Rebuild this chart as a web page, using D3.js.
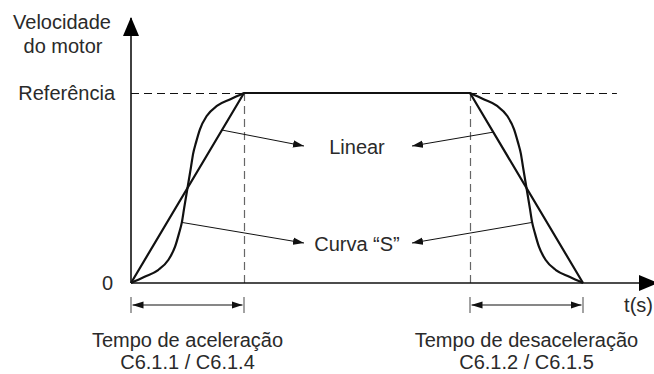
<!DOCTYPE html>
<html>
<head>
<meta charset="utf-8">
<script src="https://cdn.jsdelivr.net/npm/d3@7"></script>
<style>
  body { margin: 0; background: #fff; }
  text { font-family: "Liberation Sans", Arial, sans-serif; font-size: 20px; fill: #2a2a2a; }
</style>
</head>
<body>
<svg id="chart" width="654" height="374"></svg>
<script>
// linear ramp profile (t in ramp units, v as fraction of reference)
const profileT = [0, 1, 3, 4]
const profileV = [0, 1, 1, 0]

// "S" curve
const sAccelT = [0, .12, .24, .33, .39, .425, .45, .47, .5, .53, .55, .575, .61, .67, .76, .88, 1]
const sAccelV = [0, .033, .068, .121, .191, .261, .319, .393, .5, .607, .681, .739, .809, .879, .932, .967, 1]
const sDecelT = [3, 3.12, 3.24, 3.33, 3.39, 3.425, 3.45, 3.47, 3.5, 3.53, 3.55, 3.575, 3.61, 3.67, 3.76, 3.88, 4]
const sDecelV = [1, .967, .932, .879, .809, .739, .681, .607, .5, .393, .319, .261, .191, .121, .068, .033, 0]

// where the callout arrows leave the curves
const linearCallT = [0.805, 3.206]
const sCallT = [0.448, 3.552]
const sCallV = [0.319, 0.319]

const rampLabels = [
  ["Tempo de aceleração", "C6.1.1 / C6.1.4"],
  ["Tempo de desaceleração", "C6.1.2 / C6.1.5"]
]
const rampSpans = [[0, 1], [3, 4]]

const svg = d3.select("#chart")

const x = d3.scaleLinear().domain([0, 4]).range([131, 583])
const y = d3.scaleLinear().domain([0, 1]).range([283, 93])

const defs = svg.append("defs")
defs.append("marker")
  .attr("id", "head")
  .attr("viewBox", "0 -4 11 8")
  .attr("refX", 11).attr("refY", 0)
  .attr("markerWidth", 11).attr("markerHeight", 8)
  .attr("markerUnits", "userSpaceOnUse")
  .attr("orient", "auto-start-reverse")
  .append("path")
  .attr("d", "M0,-3.6L11,0L0,3.6Z")
  .attr("fill", "#111")

defs.append("marker")
  .attr("id", "axisHead")
  .attr("viewBox", "0 -8 19 16")
  .attr("refX", 18).attr("refY", 0)
  .attr("markerWidth", 19).attr("markerHeight", 16)
  .attr("markerUnits", "userSpaceOnUse")
  .attr("orient", "auto")
  .append("path")
  .attr("d", "M0,-8L19,0L0,8Z")
  .attr("fill", "#000")

// dashed guides
svg.append("line")
  .attr("x1", x(0)).attr("x2", x(4.3))
  .attr("y1", y(1) + 0.5).attr("y2", y(1) + 0.5)
  .attr("stroke", "#111").attr("stroke-width", 1.1)
  .attr("stroke-dasharray", "8,5")

svg.selectAll(".vguide")
  .data([profileT[1], profileT[2]])
  .enter().append("line")
  .attr("class", "vguide")
  .attr("x1", d => x(d) + 0.5).attr("x2", d => x(d) + 0.5)
  .attr("y1", y(1)).attr("y2", y(0))
  .attr("stroke", "#666").attr("stroke-width", 1.2)
  .attr("stroke-dasharray", "8,5")

// axes
svg.append("line")
  .attr("x1", x(0)).attr("x2", x(0))
  .attr("y1", y(0)).attr("y2", 18)
  .attr("stroke", "#111").attr("stroke-width", 1.6)
  .attr("marker-end", "url(#axisHead)")
svg.append("line")
  .attr("x1", x(0)).attr("x2", 657)
  .attr("y1", y(0)).attr("y2", y(0))
  .attr("stroke", "#111").attr("stroke-width", 1.6)
  .attr("marker-end", "url(#axisHead)")

// curves
const line = d3.line().x(d => x(d[0])).y(d => y(d[1]))
const sLine = d3.line().x(d => x(d[0])).y(d => y(d[1])).curve(d3.curveMonotoneX)

svg.append("path")
  .datum(d3.zip(profileT, profileV))
  .attr("d", line)
  .attr("fill", "none").attr("stroke", "#111").attr("stroke-width", 2.2)
  .attr("stroke-linejoin", "round")

svg.selectAll(".scurve")
  .data([d3.zip(sAccelT, sAccelV), d3.zip(sDecelT, sDecelV)])
  .enter().append("path")
  .attr("class", "scurve")
  .attr("d", sLine)
  .attr("fill", "none").attr("stroke", "#111").attr("stroke-width", 2.2)

// callouts
const tipL = 304, tipR = 412
svg.selectAll(".callLin")
  .data(linearCallT)
  .enter().append("line")
  .attr("x1", d => x(d))
  .attr("y1", d => y(d < 2 ? d : 4 - d))
  .attr("x2", (d, i) => i == 0 ? tipL : tipR)
  .attr("y2", 146)
  .attr("stroke", "#111").attr("stroke-width", 1)
  .attr("marker-end", "url(#head)")

svg.selectAll(".callS")
  .data(sCallT)
  .enter().append("line")
  .attr("x1", d => x(d))
  .attr("y1", (d, i) => y(sCallV[i]))
  .attr("x2", (d, i) => i == 0 ? tipL : tipR)
  .attr("y2", 243)
  .attr("stroke", "#111").attr("stroke-width", 1)
  .attr("marker-end", "url(#head)")

svg.append("text").attr("x", 357).attr("y", 154).attr("text-anchor", "middle").text("Linear")
svg.append("text").attr("x", 357).attr("y", 251).attr("text-anchor", "middle").text("Curva “S”")

// ramp time spans
const spans = svg.selectAll(".span")
  .data(rampSpans)
  .enter().append("g")
  .attr("class", "span")

spans.append("line")
  .attr("x1", d => x(d[0])).attr("x2", d => x(d[0]))
  .attr("y1", 297).attr("y2", 313)
  .attr("stroke", "#666").attr("stroke-width", 1.2)
spans.append("line")
  .attr("x1", d => x(d[1])).attr("x2", d => x(d[1]))
  .attr("y1", 297).attr("y2", 313)
  .attr("stroke", "#666").attr("stroke-width", 1.2)
spans.append("line")
  .attr("x1", d => x(d[0]) + 1.5).attr("x2", d => x(d[1]) - 1.5)
  .attr("y1", 305).attr("y2", 305)
  .attr("stroke", "#111").attr("stroke-width", 1.2)
  .attr("marker-start", "url(#head)")
  .attr("marker-end", "url(#head)")

spans.each(function(d, i) {
  const cx = (x(d[0]) + x(d[1])) / 2
  const g = d3.select(this)
  g.append("text").attr("x", cx).attr("y", 347).attr("text-anchor", "middle").text(rampLabels[i][0])
  g.append("text").attr("x", cx).attr("y", 369).attr("text-anchor", "middle").text(rampLabels[i][1])
})

// axis labels
svg.append("text").attr("x", 62).attr("y", 29).attr("text-anchor", "middle").text("Velocidade")
svg.append("text").attr("x", 63).attr("y", 53).attr("text-anchor", "middle").text("do motor")
svg.append("text").attr("x", 115).attr("y", 100).attr("text-anchor", "end").text("Referência")
svg.append("text").attr("x", 113).attr("y", 290).attr("text-anchor", "end").text("0")
svg.append("text").attr("x", 653).attr("y", 312).attr("text-anchor", "end").text("t(s)")
</script>
</body>
</html>
